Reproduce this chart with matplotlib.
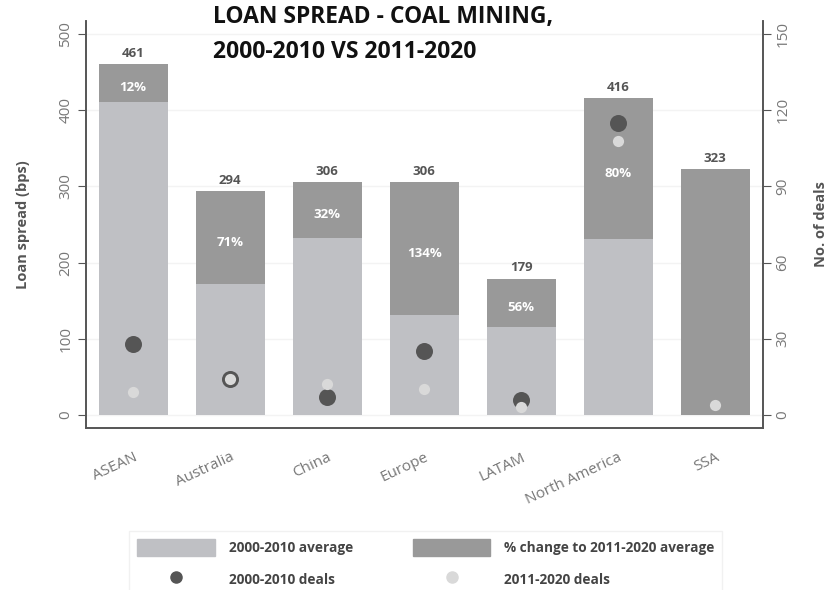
import numpy as np
import matplotlib.pyplot as plt
import matplotlib.transforms as mtransforms
from matplotlib.patches import Patch
from matplotlib.lines import Line2D

plt.rcParams['font.family'] = ['Open Sans', 'DejaVu Sans']

# data
regions = ['ASEAN', 'Australia', 'China', 'Europe', 'LATAM', 'North America', 'SSA']
avg_2000_2010 = [411, 172, 232, 131, 115, 231, 0]
avg_2011_2020 = [461, 294, 306, 306, 179, 416, 323]
pct_change = ['12%', '71%', '32%', '134%', '56%', '80%', '']
deals_2000_2010 = [28, 14, 7, 25, 6, 115, None]
deals_2011_2020 = [9, 14, 12, 10, 3, 108, 4]

light_bar = '#bfc0c4'
dark_bar = '#999999'
dark_dot = '#555555'
light_dot = '#d9d9d9'
axis_col = '#555555'
tick_col = '#777777'

fig = plt.figure(figsize=(8.4, 5.9), dpi=100)
ax = fig.add_axes([0.102, 0.275, 0.806, 0.689])
ax2 = ax.twinx()
ax.set_zorder(1)
ax2.set_zorder(2)
ax2.patch.set_visible(False)

x = np.arange(len(regions))
width = 0.71
extra = [b - a for a, b in zip(avg_2000_2010, avg_2011_2020)]

ax.bar(x, avg_2000_2010, width, color=light_bar, zorder=2)
ax.bar(x, extra, width, bottom=avg_2000_2010, color=dark_bar, zorder=2)

# totals above bars
for xi, tot in zip(x, avg_2011_2020):
    ax.annotate(str(tot), (xi, tot), xytext=(0, 3), textcoords='offset points',
                ha='center', va='bottom', fontsize=9.5, fontweight='bold', color=axis_col)

# percent change labels in the dark segment
for xi, base, tot, lab in zip(x, avg_2000_2010, avg_2011_2020, pct_change):
    if lab:
        ax.annotate(lab, (xi, (base + tot) / 2), xytext=(0, -3.5), textcoords='offset points',
                    ha='center', va='center', fontsize=9.5, fontweight='bold',
                    color='white', zorder=3)

# deal counts on the right axis
xd = [xi for xi, d in zip(x, deals_2000_2010) if d is not None]
yd = [d for d in deals_2000_2010 if d is not None]
ax2.scatter(xd, yd, s=150, color=dark_dot, zorder=3, linewidths=0)
ax2.scatter(x, deals_2011_2020, s=65, color=light_dot, zorder=4, linewidths=0)

ax.set_xlim(-0.49, 6.49)
ax.set_ylim(-17, 517)
ax2.set_ylim(-17 * 0.3, 517 * 0.3)
ax.set_yticks([0, 100, 200, 300, 400, 500])
ax2.set_yticks([0, 30, 60, 90, 120, 150])
ax.yaxis.grid(True, color='#f3f3f3', linewidth=1, zorder=0)
ax.set_axisbelow(True)

ax.set_xticks(x)
ax.set_xticklabels(regions, rotation=25, ha='right', rotation_mode='anchor',
                   fontsize=11, color=tick_col)
shift = mtransforms.ScaledTranslation(-4 / 100, 0, fig.dpi_scale_trans)
for lab in ax.get_xticklabels():
    lab.set_transform(lab.get_transform() + shift)
ax.tick_params(axis='x', length=0, pad=16)
ax.tick_params(axis='y', length=6, color=axis_col, labelcolor=tick_col,
               labelsize=11, labelrotation=90, pad=3)
ax2.tick_params(axis='y', length=6, color=axis_col, labelcolor=tick_col,
                labelsize=11, labelrotation=90, pad=3)
for lab in ax.get_yticklabels() + ax2.get_yticklabels():
    lab.set_va('center')

for a in (ax, ax2):
    a.spines['top'].set_visible(False)
    for s in ('left', 'right', 'bottom'):
        a.spines[s].set_color(axis_col)
        a.spines[s].set_linewidth(1.2)

ax.set_ylabel('Loan spread (bps)', fontsize=10.5, fontweight='bold', color=axis_col, labelpad=20)
ax2.set_ylabel('No. of deals', fontsize=10.5, fontweight='bold', color=axis_col, labelpad=17)

fig.text(0.254, 0.971, 'LOAN SPREAD - COAL MINING,', fontsize=16.5, fontweight='bold',
         color='#111111', ha='left', va='center')
fig.text(0.254, 0.912, '2000-2010 VS 2011-2020', fontsize=16.5, fontweight='bold',
         color='#111111', ha='left', va='center')

handles = [
    Patch(color=light_bar),
    Line2D([], [], marker='o', linestyle='none', markersize=8, color=dark_dot),
    Patch(color=dark_bar),
    Line2D([], [], marker='o', linestyle='none', markersize=8, color=light_dot),
]
labels = ['2000-2010 average', '2000-2010 deals',
          '% change to 2011-2020 average', '2011-2020 deals']
leg = fig.legend(handles, labels, ncol=2, loc='upper center', bbox_to_anchor=(0.507, 0.1),
                 fontsize=9.8, handlelength=5.7, handleheight=1.5, handletextpad=1.0,
                 columnspacing=4.4, borderpad=0.6, labelspacing=1.1, borderaxespad=0,
                 frameon=True, fancybox=False)
leg.get_frame().set_edgecolor('#eeeeee')
for t in leg.get_texts():
    t.set_fontweight('bold')
    t.set_color('#444444')

fig.savefig('out.png', dpi=100)
